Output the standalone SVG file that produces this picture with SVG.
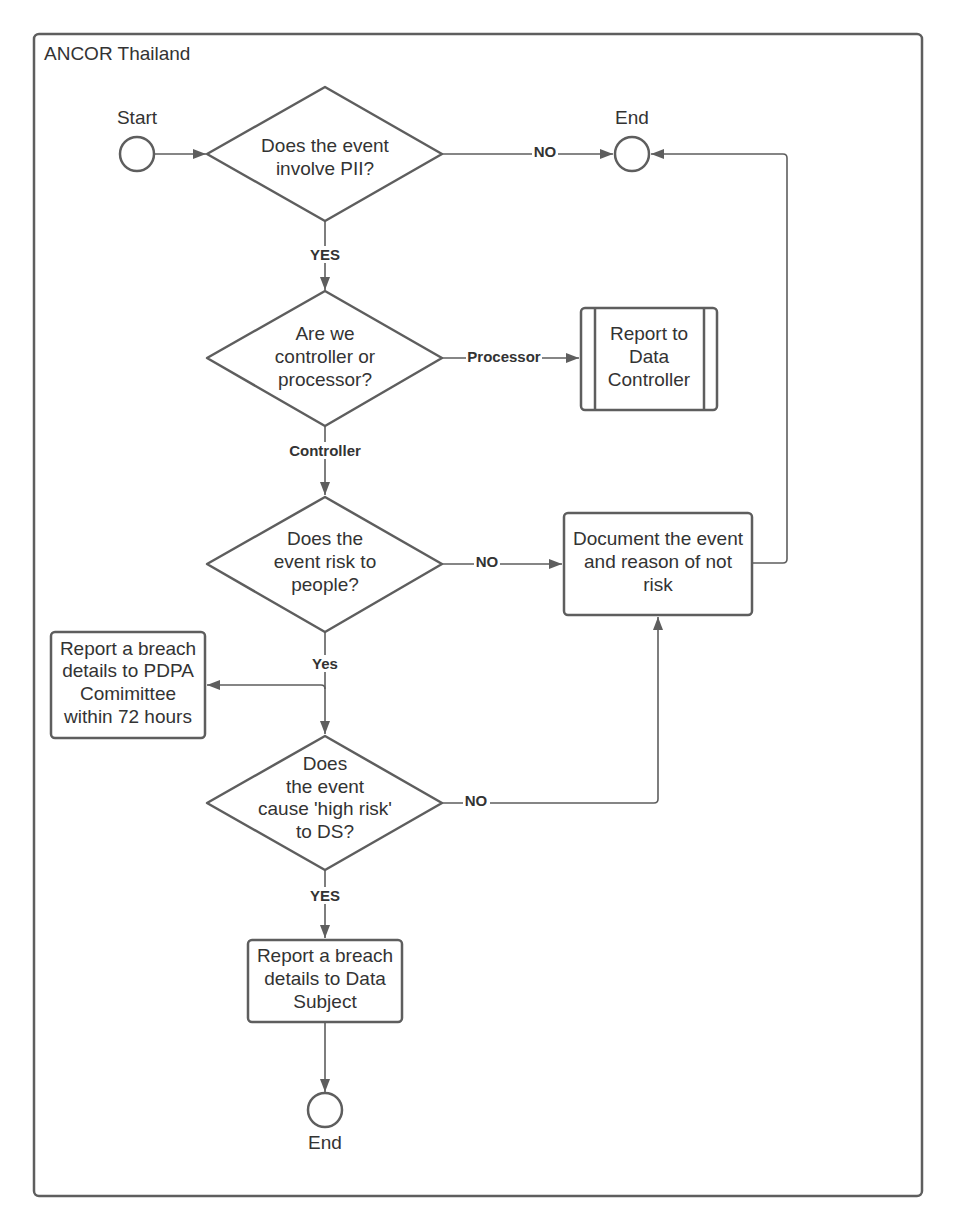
<svg xmlns="http://www.w3.org/2000/svg" width="957" height="1231" viewBox="0 0 957 1231">
<defs>
<style>
.shape{fill:#fff;stroke:#5e5e5e;stroke-width:2.5}
.edge{fill:none;stroke:#5e5e5e;stroke-width:1.6}
.t{font-family:"Liberation Sans",Arial,sans-serif;font-size:19px;fill:#333;text-anchor:middle}
.lbl{font-family:"Liberation Sans",Arial,sans-serif;font-size:15px;font-weight:bold;fill:#333;text-anchor:middle}
.bg{fill:#fff}
</style>
<marker id="arr" markerUnits="userSpaceOnUse" markerWidth="14" markerHeight="12" refX="13" refY="6" orient="auto">
<path d="M0,1 L13,6 L0,11 Z" fill="#5e5e5e"/>
</marker>
</defs>
<rect width="957" height="1231" fill="#fff"/>
<g id="container">
<rect x="34" y="34" width="888" height="1162" rx="5" fill="none" stroke="#5e5e5e" stroke-width="2.5"/>
<text x="44" y="60" style="font-family:'Liberation Sans',Arial,sans-serif;font-size:19px;fill:#333">ANCOR Thailand</text>
</g>
<g id="connectors">
<path class="edge" d="M154,154 H206" marker-end="url(#arr)"/>
<path class="edge" d="M442,154 H613" marker-end="url(#arr)"/>
<path class="edge" d="M752,563 H783 Q787,563 787,559 V158 Q787,154 783,154 H651" marker-end="url(#arr)"/>
<path class="edge" d="M325,221 V290" marker-end="url(#arr)"/>
<path class="edge" d="M442,358 H579" marker-end="url(#arr)"/>
<path class="edge" d="M325,426 V495" marker-end="url(#arr)"/>
<path class="edge" d="M442,564 H562" marker-end="url(#arr)"/>
<path class="edge" d="M325,632 V734" marker-end="url(#arr)"/>
<path class="edge" d="M325,689 Q325,685 321,685 H207" marker-end="url(#arr)"/>
<path class="edge" d="M442,803 H654 Q658,803 658,799 V617" marker-end="url(#arr)"/>
<path class="edge" d="M325,870 V938" marker-end="url(#arr)"/>
<path class="edge" d="M325,1022 V1092" marker-end="url(#arr)"/>
<rect class="bg" x="532" y="144" width="26" height="17"/>
<text class="lbl" x="545" y="157">NO</text>
<rect class="bg" x="307" y="246" width="36" height="17"/>
<text class="lbl" x="325" y="260">YES</text>
<rect class="bg" x="466" y="349" width="76" height="17"/>
<text class="lbl" x="504" y="362">Processor</text>
<rect class="bg" x="287" y="442" width="76" height="17"/>
<text class="lbl" x="325" y="456">Controller</text>
<rect class="bg" x="474" y="554" width="26" height="17"/>
<text class="lbl" x="487" y="567">NO</text>
<rect class="bg" x="310" y="655" width="30" height="17"/>
<text class="lbl" x="325" y="669">Yes</text>
<rect class="bg" x="463" y="793" width="27" height="17"/>
<text class="lbl" x="476" y="806">NO</text>
<rect class="bg" x="307" y="887" width="36" height="17"/>
<text class="lbl" x="325" y="901">YES</text>
</g>
<g id="start">
<circle class="shape" cx="137" cy="154" r="17"/>
<text class="t" x="137" y="124">Start</text>
</g>
<g id="d1">
<path class="shape" d="M325,87 L442,154 L325,221 L207,154 Z" stroke-linejoin="round"/>
<text class="t" x="325" y="152">Does the event</text>
<text class="t" x="325" y="175">involve PII?</text>
</g>
<g id="end1">
<circle class="shape" cx="632" cy="154" r="17"/>
<text class="t" x="632" y="124">End</text>
</g>
<g id="d2">
<path class="shape" d="M325,291 L442,358 L325,426 L207,358 Z" stroke-linejoin="round"/>
<text class="t" x="325" y="340">Are we</text>
<text class="t" x="325" y="363">controller or</text>
<text class="t" x="325" y="386">processor?</text>
</g>
<g id="reportController">
<rect class="shape" x="581" y="308" width="136" height="102" rx="4"/>
<line x1="595" y1="308" x2="595" y2="410" stroke="#5e5e5e" stroke-width="2.5"/>
<line x1="704" y1="308" x2="704" y2="410" stroke="#5e5e5e" stroke-width="2.5"/>
<text class="t" x="649" y="340">Report to</text>
<text class="t" x="649" y="363">Data</text>
<text class="t" x="649" y="386">Controller</text>
</g>
<g id="d3">
<path class="shape" d="M325,497 L442,564 L325,632 L207,564 Z" stroke-linejoin="round"/>
<text class="t" x="325" y="545">Does the</text>
<text class="t" x="325" y="568">event risk to</text>
<text class="t" x="325" y="591">people?</text>
</g>
<g id="document">
<rect class="shape" x="564" y="513" width="188" height="102" rx="4"/>
<text class="t" x="658" y="545">Document the event</text>
<text class="t" x="658" y="568">and reason of not</text>
<text class="t" x="658" y="591">risk</text>
</g>
<g id="pdpa">
<rect class="shape" x="51" y="632" width="154" height="106" rx="4"/>
<text class="t" x="128" y="655">Report a breach</text>
<text class="t" x="128" y="677">details to PDPA</text>
<text class="t" x="128" y="700">Comimittee</text>
<text class="t" x="128" y="723">within 72 hours</text>
</g>
<g id="d4">
<path class="shape" d="M325,736 L442,803 L325,870 L207,803 Z" stroke-linejoin="round"/>
<text class="t" x="325" y="770">Does</text>
<text class="t" x="325" y="793">the event</text>
<text class="t" x="325" y="815">cause 'high risk'</text>
<text class="t" x="325" y="838">to DS?</text>
</g>
<g id="reportDS">
<rect class="shape" x="248" y="940" width="154" height="82" rx="4"/>
<text class="t" x="325" y="962">Report a breach</text>
<text class="t" x="325" y="985">details to Data</text>
<text class="t" x="325" y="1008">Subject</text>
</g>
<g id="end2">
<circle class="shape" cx="325" cy="1110" r="17"/>
<text class="t" x="325" y="1149">End</text>
</g>
</svg>
